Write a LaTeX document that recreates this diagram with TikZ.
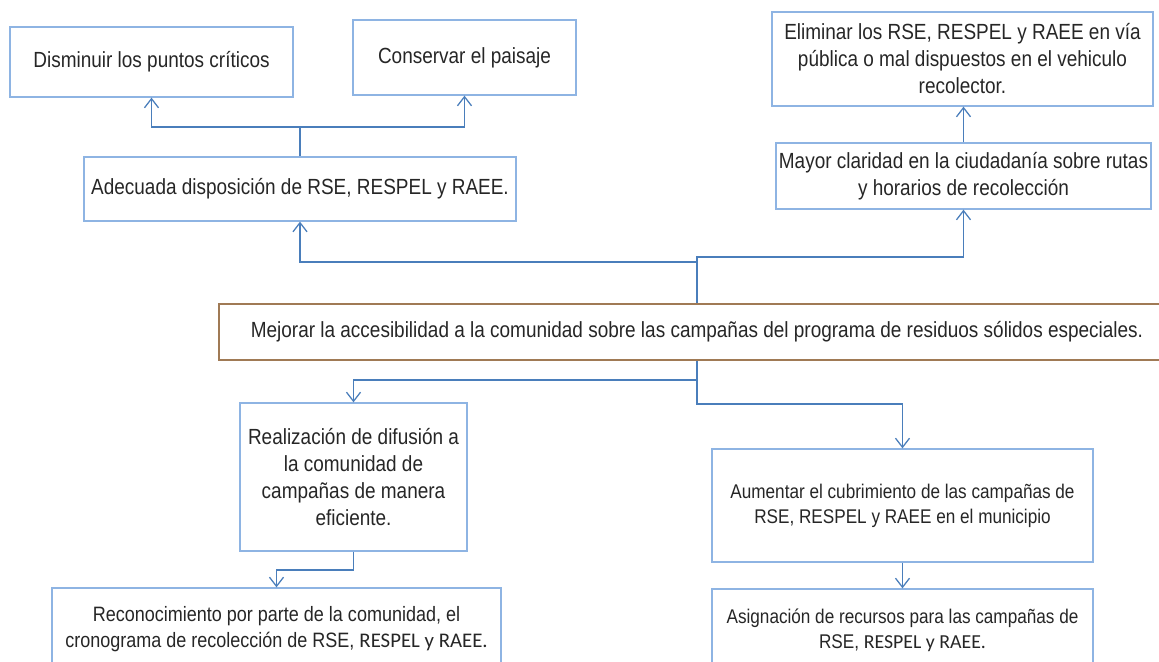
\documentclass[tikz,border=0pt]{standalone}
\usepackage{fontspec}
\setmainfont{Liberation Sans}[FakeStretch=0.865]
\newfontfamily\calfont{Carlito}
\usetikzlibrary{arrows.meta}
\definecolor{boxblue}{HTML}{8EB4E3}
\definecolor{linkblue}{HTML}{4A7EBB}
\definecolor{corebrown}{HTML}{A07A55}
\definecolor{txtgray}{HTML}{262626}

\begin{document}
\begin{tikzpicture}[
  x=0.025cm, y=-0.025cm,
  goal/.style = {rectangle, draw=boxblue, line width=0.9pt, inner sep=0pt,
                 align=center, text=txtgray, font=\fontsize{15.6}{19.2}\selectfont},
  small/.style = {goal, font=\fontsize{14.1}{17.8}\selectfont},
  core/.style = {goal, draw=corebrown, line width=1.1pt},
  flow/.style = {-{Straight Barb[length=6.5pt,width=10pt]}, draw=linkblue, line width=0.9pt},
]
\useasboundingbox (0,0) rectangle (1159,662);
\clip (0,0) rectangle (1159,662);

\node[goal, minimum width=7.075cm, minimum height=1.75cm]  (dism)  at (151.5,62)  {Disminuir los puntos críticos};
\node[goal, minimum width=5.575cm, minimum height=1.875cm] (cons)  at (464.5,57.5) {Conservar el paisaje};
\node[goal, minimum width=10.8cm,  minimum height=1.6cm]   (adec)  at (300,189)   {Adecuada disposición de RSE, RESPEL y RAEE.};
\node[goal, minimum width=9.525cm, minimum height=2.35cm]  (elim)  at (962.5,59)  {Eliminar los RSE, RESPEL y RAEE en vía\\pública o mal dispuestos en el vehiculo\\recolector.};
\node[goal, minimum width=9.375cm, minimum height=1.65cm]  (mayor) at (963.5,176) {Mayor claridad en la ciudadanía sobre rutas\\y horarios de recolección};
\node[core, minimum width=23.9cm,  minimum height=1.4cm]   (core)  at (697,332)   {Mejorar la accesibilidad a la comunidad sobre las campañas del programa de residuos sólidos especiales.};
\node[goal, minimum width=5.675cm, minimum height=3.7cm]   (real)  at (353.5,477) {Realización de difusión a\\la comunidad de\\campañas de manera\\eficiente.};
\node[goal, font=\fontsize{14.8}{18.8}\selectfont, minimum width=11.225cm, minimum height=2.05cm] (recon) at (276.5,629) {Reconocimiento por parte de la comunidad, el\\cronograma de recolección de RSE, {\calfont RESPEL y RAEE.}};
\node[small, minimum width=9.525cm, minimum height=2.825cm] (aum)   at (902.5,505.5) {Aumentar el cubrimiento de las campañas de\\RSE, RESPEL y RAEE en el municipio};
\node[small, minimum width=9.525cm, minimum height=2.05cm]  (asig)  at (902.5,630) {Asignación de recursos para las campañas de\\RSE, {\calfont RESPEL y RAEE.}};

\coordinate (jt) at (300,127);
\coordinate (ml) at (697,262);
\coordinate (mr) at (697,257);
\coordinate (dl) at (697,380);
\coordinate (dr) at (697,404);
\coordinate (rd) at (353.5,570);

\draw[flow] (adec.north) -- (jt) -| (dism.south);
\draw[flow] (jt) -| (cons.south);
\draw[flow] (core.north) -- (mr) -| (mayor.south);
\draw[flow] (ml) -| (adec.south);
\draw[flow] (mayor.north) -- (mayor.north |- elim.south);
\draw[flow] (core.south) -- (dl) -| (real.north);
\draw[flow] (dl) -- (dr) -| (aum.north);
\draw[flow] (real.south) -- (rd) -| (recon.north);
\draw[flow] (aum.south) -- (asig.north);
\end{tikzpicture}
\end{document}
